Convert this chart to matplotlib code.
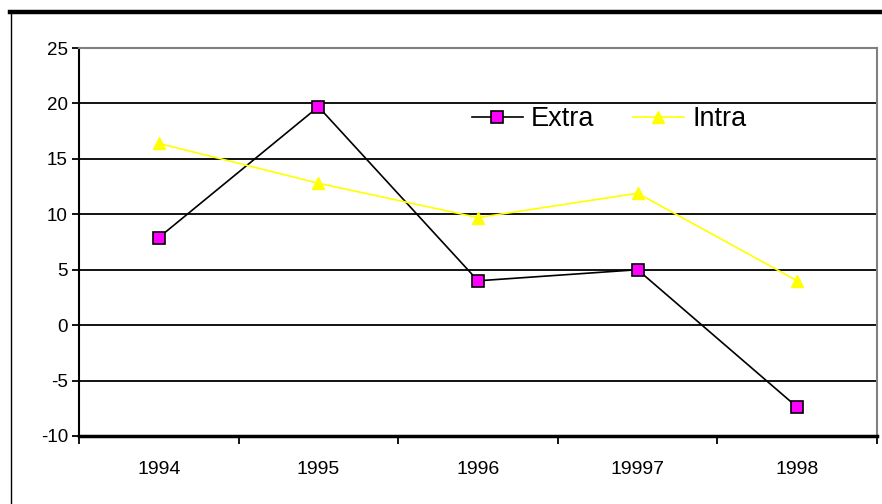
import matplotlib
matplotlib.use('Agg')
import matplotlib.pyplot as plt
from matplotlib.lines import Line2D

plt.rcParams['font.family'] = ['Liberation Sans', 'DejaVu Sans']

years = ['1994', '1995', '1996', '19997', '1998']
extra = [7.9, 19.7, 4.0, 5.0, -7.4]
intra = [16.4, 12.8, 9.7, 11.9, 4.0]
yticks = [-10, -5, 0, 5, 10, 15, 20, 25]

W, H = 882, 504
fig = plt.figure(figsize=(W / 100, H / 100), dpi=100)
ax = fig.add_axes([79 / W, 1 - 436 / H, (877 - 79) / W, (436 - 48) / H])

x = list(range(len(years)))

# horizontal gridlines (black), drawn under the series
for v in yticks[1:-1]:
    ax.axhline(v, color='black', lw=1.3, zorder=1)

ax.plot(x, extra, color='black', lw=1.2, marker='s', ms=8.5,
        mfc='#ff00ff', mec='black', mew=1.2, label='Extra', zorder=3)
ax.plot(x, intra, color='#ffff00', lw=1.2, marker='^', ms=9,
        mfc='#ffff00', mec='#ffff00', label='Intra', zorder=3)

ax.set_xlim(-0.5, len(years) - 0.5)
ax.set_ylim(-10, 25)

ax.set_yticks(yticks)
ax.set_yticklabels([str(v) for v in yticks], fontsize=13.5)
ax.tick_params(axis='y', direction='out', length=5, width=1.3, pad=3)

# major ticks at category boundaries, labels at centres
ax.set_xticks([i - 0.5 for i in range(len(years) + 1)])
ax.set_xticklabels([])
ax.set_xticks(x, minor=True)
ax.set_xticklabels(years, minor=True, fontsize=14)
ax.tick_params(axis='x', which='major', direction='out', length=6, width=1.3)
ax.tick_params(axis='x', which='minor', length=0, pad=18)

ax.spines['left'].set_color('black')
ax.spines['left'].set_linewidth(1.5)
ax.spines['bottom'].set_color('black')
ax.spines['bottom'].set_linewidth(2.5)
ax.spines['top'].set_color('#808080')
ax.spines['top'].set_linewidth(1.5)
ax.spines['right'].set_color('#808080')
ax.spines['right'].set_linewidth(1.5)

ax.legend(loc='center', bbox_to_anchor=(609 / W, 1 - 119 / H),
          bbox_transform=fig.transFigure, ncol=2, frameon=False,
          fontsize=19.5, handlelength=1.9, handletextpad=0.3,
          columnspacing=1.4, borderpad=0)

# outer chart frame (cut off at right and bottom)
fig.add_artist(Line2D([10 / W, 1], [1 - 11.5 / H] * 2, color='black', lw=3.2,
                      transform=fig.transFigure))
fig.add_artist(Line2D([11 / W] * 2, [0, 1 - 11.5 / H], color='black', lw=1.0,
                      transform=fig.transFigure))

fig.savefig('out.png', dpi=100, facecolor='white')
